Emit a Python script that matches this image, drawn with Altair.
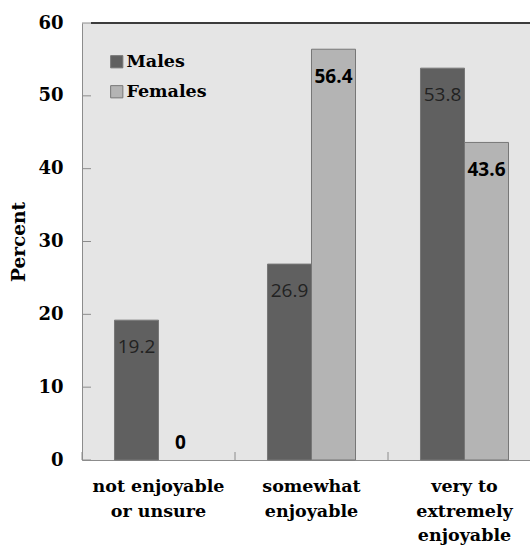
import altair as alt
import pandas as pd

# Survey responses by sex (percent)
categories = ["not enjoyable|or unsure", "somewhat|enjoyable", "very to|extremely|enjoyable"]
groups = ["Males", "Females"]
males = [19.2, 26.9, 53.8]
females = [0, 56.4, 43.6]
y_ticks = [0, 10, 20, 30, 40, 50, 60]

rows = []
for c, m, f in zip(categories, males, females):
    rows.append({"category": c, "group": "Males", "value": m})
    rows.append({"category": c, "group": "Females", "value": f})
df = pd.DataFrame(rows)
ticks_df = pd.DataFrame({"tick": y_ticks})
cat_df = pd.DataFrame({"category": categories})
one_df = pd.DataFrame({"a": [0]})

W, H = 448, 437
SERIF = "DejaVu Serif"
SANS = "Open Sans"

x_scale = alt.Scale(domain=categories, range=[0, 459], paddingInner=0, paddingOuter=0)
y_scale = alt.Scale(domain=[0, 60], nice=False)
off_scale = alt.Scale(domain=groups, paddingInner=0, paddingOuter=0.7386)
color_scale = alt.Scale(domain=groups, range=["#606060", "#b4b4b4"])

# category names are written as text marks below the axis line
x_axis = alt.Axis(title=None, ticks=False, labels=False, domain=True, domainColor="#8c8c8c")
y_axis = alt.Axis(
    values=y_ticks, grid=False, ticks=False, domain=True, domainColor="#8c8c8c",
    labelFont=SERIF, labelFontWeight="bold", labelFontSize=18, labelColor="#000",
    labelPadding=19, title="Percent", titleFont=SERIF, titleFontWeight="bold",
    titleFontSize=18.5, titleColor="#000", titleAngle=270, titleX=-64, titleY=H / 2,
    titleAlign="center", titleBaseline="middle",
)

X = alt.X("category:N", scale=x_scale, sort=categories, axis=x_axis)
Y = alt.Y("value:Q", scale=y_scale, axis=y_axis)
XO = alt.XOffset("group:N", scale=off_scale, sort=groups)

base = alt.Chart(df)

bars = base.transform_filter(alt.datum.value > 0).mark_bar(
    stroke="#777777", strokeWidth=1
).encode(
    x=X, xOffset=XO, y=Y,
    color=alt.Color("group:N", scale=color_scale, sort=groups, legend=alt.Legend(
        orient="none", legendX=26, legendY=30, title=None, symbolType="square",
        symbolSize=150, symbolStrokeColor="#777777", symbolStrokeWidth=1,
        labelFont=SERIF, labelFontWeight="bold", labelFontSize=17.5, labelColor="#000",
        rowPadding=11, labelOffset=1, padding=0,
    )),
)

male_text = base.transform_filter(alt.datum.group == "Males").mark_text(
    font=SANS, fontSize=19, color="#222222", baseline="middle", dy=27
).encode(x=X, xOffset=XO, y=Y, text=alt.Text("value:Q", format=".1f"))

female_text = base.transform_filter(
    (alt.datum.group == "Females") & (alt.datum.value > 0)
).mark_text(
    font=SANS, fontSize=19, fontWeight="bold", color="#000", baseline="middle", dy=28
).encode(x=X, xOffset=XO, y=Y, text=alt.Text("value:Q", format=".1f"))

zero_text = base.transform_filter(
    (alt.datum.group == "Females") & (alt.datum.value == 0)
).mark_text(
    font=SANS, fontSize=19, fontWeight="bold", color="#000", baseline="middle", dy=-17
).encode(x=X, xOffset=XO, y=Y, text=alt.Text("value:Q", format="d"))

# inward ticks on the value axis
y_tick_marks = alt.Chart(ticks_df).mark_rule(color="#8c8c8c").encode(
    y=alt.Y("tick:Q", scale=y_scale, axis=y_axis), x=alt.value(0), x2=alt.value(9)
)

# inward ticks at category boundaries
x_tick_marks = alt.Chart(cat_df).mark_rule(color="#8c8c8c").encode(
    x=alt.X("category:N", scale=x_scale, sort=categories, axis=x_axis, bandPosition=0),
    y=alt.value(H - 8), y2=alt.value(H),
)

# multi-line category names under each group of bars
cat_labels = alt.Chart(cat_df).transform_calculate(
    lines="split(datum.category, '|')"
).mark_text(
    font=SERIF, fontWeight="bold", fontSize=17.5, color="#000",
    baseline="top", align="center", lineHeight=24.5,
).encode(x=X, y=alt.value(H + 18), text="lines:N")

top_line = alt.Chart(one_df).mark_rule(color="#3c3c3c", strokeWidth=2).encode(
    x=alt.value(9), x2=alt.value(W), y=alt.value(0)
)

chart = alt.layer(
    bars, male_text, female_text, zero_text, y_tick_marks, x_tick_marks,
    cat_labels, top_line
).properties(
    width=W, height=H,
    padding={"left": 82, "top": 23, "right": 0, "bottom": 87},
    autosize=alt.AutoSizeParams(type="none"),
    background="#ffffff",
).configure_view(stroke=None, fill="#e5e5e5")

chart.save("out.html", embed_options={"renderer": "svg", "actions": False})
